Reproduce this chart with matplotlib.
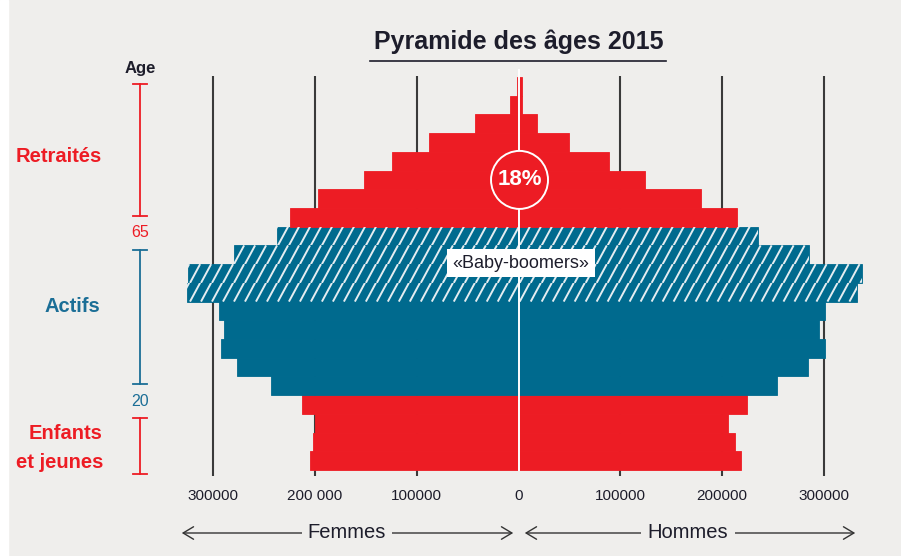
"""
Pyramide des ages 2015 - recreation.
Bars: femmes a gauche, hommes a droite, tranches de 5 ans.
"""
import matplotlib
matplotlib.use("Agg")
import matplotlib.pyplot as plt
from matplotlib.patches import Ellipse, FancyArrowPatch, Rectangle
from matplotlib.lines import Line2D
from matplotlib.collections import LineCollection
import numpy as np

plt.rcParams["font.family"] = ["Liberation Sans", "DejaVu Sans"]

# data (5-year age groups, lower bound of each group)
age_min = [0, 5, 10, 15, 20, 25, 30, 35, 40, 45, 50, 55, 60,
           65, 70, 75, 80, 85, 90, 95, 100]
femmes = [204900, 201700, 199500, 213100, 243500, 277000, 292400, 289400, 294100,
          326100, 324800, 279300, 237600,
          224600, 196600, 151500, 124300, 87700, 42800, 8400, 1500]
hommes = [218400, 212800, 206200, 224900, 254300, 284200, 301200, 295600, 301200,
          332400, 337300, 285800, 235100,
          215000, 179400, 124300, 89200, 49600, 18500, 3400, 3000]
tick_values = [-300000, -200000, -100000, 0, 100000, 200000, 300000]
tick_labels = ["300000", "200 000", "100000", "0", "100000", "200000", "300000"]
part_retraites = "18%"

# colours
rouge = "#ed1c24"
bleu = "#006a8e"
bleu_txt = "#1b6e96"
fond = "#efeeec"
texte = "#1d1d2b"

W, H = 901, 556
fig = plt.figure(figsize=(W / 100, H / 100), dpi=100)
fig.patch.set_facecolor(fond)

def fx(px):
    return px / W

def fy(py):
    return 1 - py / H

# left white strip of the scanned page
fig.add_artist(Rectangle((0, 0), fx(8), 1, transform=fig.transFigure,
                         color="white", zorder=0))

ax = fig.add_axes([fx(171.5), fy(479.4), (870.6 - 171.5) / W, (479.4 - 67.6) / H])
ax.set_xlim(-341000, 346000)
ax.set_ylim(-1.0, 21.0)
ax.set_facecolor("none")
for s in ax.spines.values():
    s.set_visible(False)

y = np.arange(len(age_min))
cols = [rouge if (a < 20 or a >= 65) else bleu for a in age_min]
boomers = [45 <= a < 65 for a in age_min]

# gridlines
ax.vlines([t for t in tick_values if t != 0], -0.82, 20.55,
          color="#3a3a3a", lw=1.5, zorder=1)

bars_f = ax.barh(y, [-v for v in femmes], height=1.0, color=cols,
                 edgecolor=cols, lw=0.6, zorder=2)
bars_h = ax.barh(y, hommes, height=1.0, color=cols,
                 edgecolor=cols, lw=0.6, zorder=2)

# white diagonal stripes on the baby-boomer rows
x_starts = np.arange(-420000, 420000, 10800)
dxdy = 9940
for bars in (bars_f, bars_h):
    for patch, hb in zip(bars, boomers):
        if not hb:
            continue
        y0 = patch.get_y()
        y1 = y0 + patch.get_height()
        segs = [[(x0, y0), (x0 + dxdy * (y1 - y0), y1)] for x0 in x_starts]
        lc = LineCollection(segs, colors="#e4edf1", linewidths=1.4, zorder=3)
        ax.add_collection(lc)
        lc.set_clip_path(patch)

# white centre line
ax.plot([0, 0], [-0.5, 20.85], color="white", lw=1.4, zorder=4)

# 18% bubble
ax.add_patch(Ellipse((1000, 15.0), width=56000, height=3.1, facecolor=rouge,
                     edgecolor="white", lw=1.4, zorder=5))
ax.text(1000, 15.0, part_retraites, ha="center", va="center", color="white",
        fontsize=16, fontweight="bold", zorder=6)

# baby-boomers label
ax.text(2500, 10.56, "«Baby-boomers»", ha="center", va="center", color=texte,
        fontsize=13, zorder=6,
        bbox=dict(boxstyle="square,pad=0.3", facecolor="white", edgecolor="none"))

ax.set_xticks(tick_values, tick_labels)
ax.set_yticks([])
ax.tick_params(axis="x", length=0, pad=7, labelsize=11, labelcolor=texte)

# title
fig.text(fx(519), fy(42), "Pyramide des âges 2015", ha="center", va="center",
         fontsize=18, fontweight="bold", color=texte)
fig.add_artist(Line2D([fx(370), fx(666)], [fy(61), fy(61)], color=texte, lw=1.2))

# age brackets on the left
def bracket(y0, y1, color):
    fig.add_artist(Line2D([fx(140), fx(140)], [fy(y0), fy(y1)], color=color, lw=1.3))
    for yy in (y0, y1):
        fig.add_artist(Line2D([fx(133), fx(147)], [fy(yy), fy(yy)], color=color, lw=1.3))

fig.text(fx(140), fy(68), "Age", ha="center", va="center", fontsize=12,
         fontweight="bold", color=texte)
bracket(84, 216, rouge)
bracket(250, 384, bleu_txt)
bracket(418, 474, rouge)
fig.text(fx(140), fy(232), "65", ha="center", va="center", fontsize=11.5, color=rouge)
fig.text(fx(140), fy(402), "20", ha="center", va="center", fontsize=11.5, color=bleu_txt)
fig.text(fx(102), fy(157), "Retraités", ha="right", va="center", fontsize=14.5,
         fontweight="bold", color=rouge)
fig.text(fx(100), fy(307), "Actifs", ha="right", va="center", fontsize=14.5,
         fontweight="bold", color=bleu_txt)
fig.text(fx(103), fy(448), "Enfants\net jeunes", ha="right", va="center",
         fontsize=14.5, fontweight="bold", color=rouge, linespacing=1.7,
         multialignment="right")

# arrows Femmes / Hommes
def fleche(x0, x1):
    fig.add_artist(FancyArrowPatch((fx(x0), fy(533)), (fx(x1), fy(533)),
                                   transform=fig.transFigure,
                                   arrowstyle="<->,head_length=0.5,head_width=0.3",
                                   mutation_scale=15, color="#333333", lw=1))

fleche(179, 516)
fleche(522, 858)
fig.text(fx(347), fy(533), "Femmes", ha="center", va="center", fontsize=14.5,
         color=texte, bbox=dict(facecolor=fond, edgecolor="none", pad=4))
fig.text(fx(688), fy(533), "Hommes", ha="center", va="center", fontsize=14.5,
         color=texte, bbox=dict(facecolor=fond, edgecolor="none", pad=5))

fig.savefig("out.png", dpi=100, facecolor=fond)
